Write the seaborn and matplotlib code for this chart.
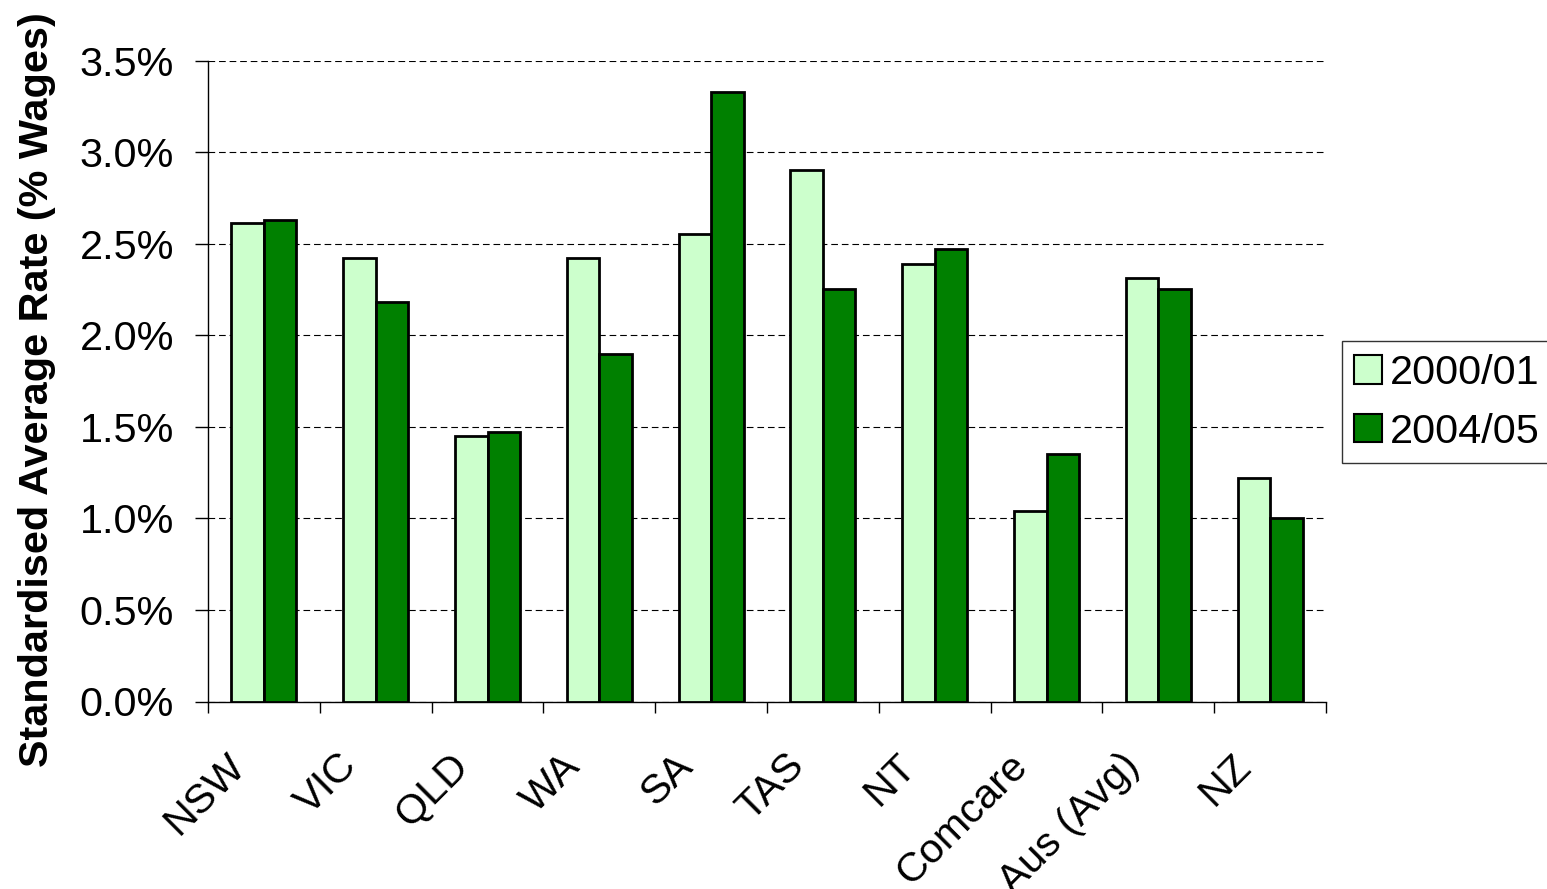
import matplotlib
matplotlib.use("Agg")
import matplotlib.pyplot as plt
from matplotlib.ticker import FuncFormatter, MultipleLocator, FixedLocator
from matplotlib.patches import Patch
from matplotlib.transforms import ScaledTranslation
import seaborn as sns
import pandas as pd
import numpy as np

# Standardised average premium rate by jurisdiction (% of wages)
regions = ["NSW", "VIC", "QLD", "WA", "SA", "TAS", "NT", "Comcare", "Aus (Avg)", "NZ"]
rate_2000_01 = [2.61, 2.42, 1.45, 2.42, 2.55, 2.90, 2.39, 1.04, 2.31, 1.22]
rate_2004_05 = [2.63, 2.18, 1.47, 1.90, 3.33, 2.25, 2.47, 1.35, 2.25, 1.00]
years = ["2000/01", "2004/05"]
colors = ["#CCFFCC", "#008000"]

df = pd.DataFrame({
    "region": regions * 2,
    "rate": rate_2000_01 + rate_2004_05,
    "year": [years[0]] * len(regions) + [years[1]] * len(regions),
})

sns.set_theme(style="white")
plt.rcParams["font.family"] = ["Liberation Sans", "DejaVu Sans"]
plt.rcParams["text.color"] = "black"
plt.rcParams["axes.labelcolor"] = "black"
plt.rcParams["xtick.color"] = "black"
plt.rcParams["ytick.color"] = "black"

FS = 29.8

fig = plt.figure(figsize=(15.47, 8.89), dpi=100)
ax = fig.add_axes([208 / 1547, 1 - 701.5 / 889, (1326 - 208) / 1547, (701.5 - 60.5) / 889])

sns.barplot(data=df, x="region", y="rate", hue="year", order=regions,
            hue_order=years, palette=colors, saturation=1, width=0.58,
            edgecolor="black", linewidth=2, ax=ax, legend=False, zorder=3)

ax.set_ylim(0, 3.5)
ax.set_xlim(-0.5, len(regions) - 0.5)
ax.yaxis.set_major_locator(MultipleLocator(0.5))
ax.yaxis.set_major_formatter(FuncFormatter(lambda v, p: f"{v:.1f}%"))
ax.grid(axis="y", color="black", linestyle=(0, (6, 3.5)), linewidth=0.8, zorder=0)
ax.grid(axis="x", visible=False)

for side in ["top", "right"]:
    ax.spines[side].set_visible(False)
for side in ["left", "bottom"]:
    ax.spines[side].set_color("black")
    ax.spines[side].set_linewidth(1.0)

# category boundaries carry the x tick marks, labels sit near the centres
ax.xaxis.set_minor_locator(FixedLocator(np.arange(-0.5, len(regions), 1.0)))
ax.tick_params(axis="x", which="minor", length=8, width=1, color="black", direction="out", bottom=True)
ax.tick_params(axis="x", which="major", length=0, pad=42)
ax.tick_params(axis="y", which="major", length=9.4, width=1, color="black", direction="out", left=True,
               labelsize=FS, pad=15)
ax.set_xticks(range(len(regions)))
ax.set_xticklabels(regions, rotation=45, ha="right", va="center", rotation_mode="anchor", fontsize=FS)
shift = ScaledTranslation(-25 / 100, 0, fig.dpi_scale_trans)
for lbl in ax.get_xticklabels():
    lbl.set_transform(lbl.get_transform() + shift)

ax.set_xlabel("")
ax.set_ylabel("Standardised Average Rate (% Wages)", fontsize=FS, fontweight="bold")
ax.yaxis.set_label_coords(-0.136, 0.486)

handles = [Patch(facecolor=c, edgecolor="black", linewidth=1.5, label=y) for c, y in zip(colors, years)]
leg = fig.legend(handles=handles, loc="upper left", bbox_to_anchor=(1341.5 / 1547, 1 - 341.5 / 889),
                 fontsize=FS, frameon=True, fancybox=False, edgecolor="black",
                 handlelength=0.68, handleheight=0.68, handletextpad=0.2,
                 borderpad=0.3, labelspacing=0.5, borderaxespad=0)
leg.get_frame().set_linewidth(1.0)

fig.savefig("out.png", dpi=100, facecolor="white")
